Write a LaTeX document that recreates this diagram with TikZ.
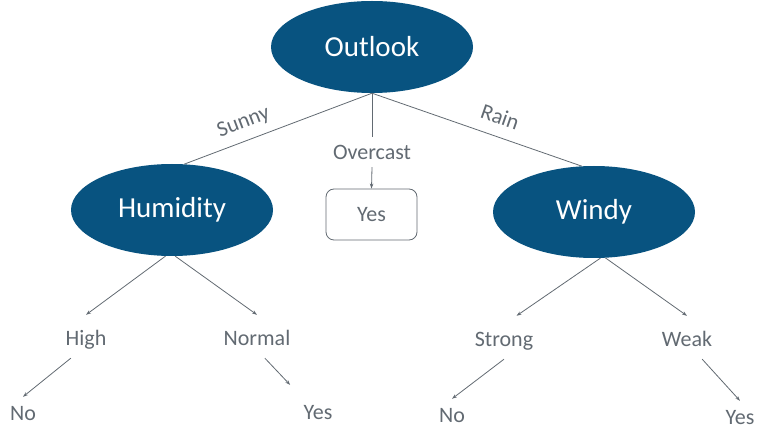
\documentclass[tikz,border=0pt]{standalone}
\usepackage{fontspec}
\setmainfont{Carlito}
\usetikzlibrary{shapes.geometric,arrows.meta}
\definecolor{treeblue}{RGB}{8,83,128}
\definecolor{treegray}{RGB}{98,106,114}
\begin{document}
\begin{tikzpicture}[x=1pt, y=1pt,
	attr/.style={ellipse, fill=treeblue, text=white, inner sep=0pt, minimum width=202pt, minimum height=92pt, font=\fontsize{29}{34}\selectfont},
	branch/.style={text=treegray, inner sep=2pt, text height=29pt, text depth=10pt, font=\fontsize{22}{26}\selectfont},
	leaf/.style={text=treegray, inner sep=3pt, text height=20pt, text depth=0pt, font=\fontsize{22}{26}\selectfont},
	edgelbl/.style={text=treegray, sloped, above=6pt, inner sep=1pt, text height=15pt, text depth=5pt, font=\fontsize{22}{26}\selectfont},
	link/.style={draw=treegray, line width=0.8pt},
	arr/.style={link, -{Stealth[length=5pt,width=3.5pt]}}]
			\useasboundingbox (0,0) rectangle (758,434);
			\node[attr] (outlook) at (372,387) {Outlook};
			\node[attr] (humidity) at (172,224) {Humidity};
			\node[attr] (windy) at (594,222) {Windy};
			\node[leaf, text depth=4pt] (overcast) at (372,282) {Overcast};
			\node[draw=treegray, line width=0.8pt, rounded corners=8pt, minimum width=91pt, minimum height=51pt, text=treegray, font=\fontsize{22}{26}\selectfont] (yesbox) at (371.5,219.5) {Yes};
			\node[branch] (high) at (86,97.5) {High};
			\node[branch] (normal) at (257,97.5) {Normal};
			\node[branch] (strong) at (504,96.5) {Strong};
			\node[branch] (weak) at (687,96.5) {Weak};
			\node[leaf] (no1) at (23,24) {No};
			\node[leaf] (yes1) at (318,25) {Yes};
			\node[leaf] (no2) at (452,22) {No};
			\node[leaf] (yes2) at (740,20) {Yes};
			
			\draw[link] (outlook.south) -- (humidity.75) node[edgelbl, pos=.65] (sunny) {Sunny};
			\draw[link] (outlook.south) -- (overcast.north);
			\draw[arr] (overcast.south) -- (yesbox.north);
			\draw[link] (outlook.south) -- (windy.105) node[edgelbl, pos=.58] (rain) {Rain};
			\draw[arr] (humidity.262) -- (high.north);
			\draw[arr] (humidity.274) -- (normal.north);
			\draw[arr] (windy.278) -- (strong.60);
			\draw[arr] (windy.284) -- (weak.north);
			\draw[arr] (high.235) -- (no1.north);
			\draw[arr, shorten >=15pt] (normal.-70) -- (yes1.north west);
			\draw[arr] (strong.south) -- (no2.north);
			\draw[arr] (weak.-55) -- (yes2.north);
\end{tikzpicture}
\end{document}
